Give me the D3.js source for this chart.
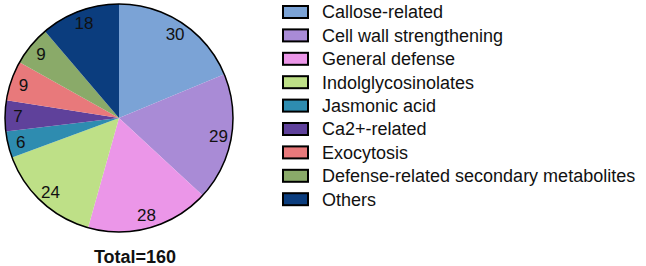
<!DOCTYPE html>
<html>
<head>
<meta charset="utf-8">
<script src="https://cdn.jsdelivr.net/npm/d3@7"></script>
<style>
  body { margin: 0; background: #fff; }
  text { font-family: "Liberation Sans", Arial, sans-serif; }
</style>
</head>
<body>
<div id="chart"></div>
<script>
// data
const categories = ['Callose-related', 'Cell wall strengthening', 'General defense', 'Indolglycosinolates',
  'Jasmonic acid', 'Ca2+-related', 'Exocytosis', 'Defense-related secondary metabolites', 'Others'];
const counts = [30, 29, 28, 24, 6, 7, 9, 9, 18];
const colors = ['#7ba3d6', '#a98bd6', '#eb96e8', '#bee087', '#2e8cb0', '#5f419b', '#e8797b', '#8aaa69', '#0b3d7e'];
const totalLabel = 'Total=160';

const width = 646;
const height = 266;
const cx = 119, cy = 118, radius = 114;

const svg = d3.select('#chart')
  .append('svg')
  .attr('width', width)
  .attr('height', height);

const pie = d3.pie().sort(null).value(d => d)(counts);
const arc = d3.arc().innerRadius(0).outerRadius(radius);
const labelArc = d3.arc().innerRadius(101).outerRadius(101);

const g = svg.append('g').attr('transform', `translate(${cx},${cy})`);

g.selectAll('path')
  .data(pie)
  .enter()
  .append('path')
  .attr('d', arc)
  .attr('fill', (d, i) => colors[i]);

g.append('circle')
  .attr('r', radius)
  .attr('fill', 'none')
  .attr('stroke', '#000')
  .attr('stroke-width', 1.5);

g.selectAll('.lbl')
  .data(pie)
  .enter()
  .append('text')
  .attr('class', 'lbl')
  .attr('transform', d => {
    const c = labelArc.centroid(d);
    return `translate(${c[0]},${c[1]})`;
  })
  .attr('text-anchor', 'middle')
  .attr('dy', '0.35em')
  .attr('font-size', 17)
  .attr('fill', '#111')
  .text(d => d.data);

svg.append('text')
  .attr('x', 135)
  .attr('y', 263)
  .attr('text-anchor', 'middle')
  .attr('font-size', 18)
  .attr('font-weight', 'bold')
  .attr('fill', '#111')
  .text(totalLabel);

// legend
const legend = svg.append('g').attr('transform', 'translate(283,0)');
const rows = legend.selectAll('g')
  .data(categories)
  .enter()
  .append('g')
  .attr('transform', (d, i) => `translate(0,${12 + i * 23.4})`);

rows.append('rect')
  .attr('x', 0)
  .attr('y', -6)
  .attr('width', 25)
  .attr('height', 12)
  .attr('fill', (d, i) => colors[i])
  .attr('stroke', '#000')
  .attr('stroke-width', 2);

rows.append('text')
  .attr('x', 39)
  .attr('dy', '0.35em')
  .attr('font-size', 18)
  .attr('fill', '#111')
  .text(d => d);
</script>
</body>
</html>
